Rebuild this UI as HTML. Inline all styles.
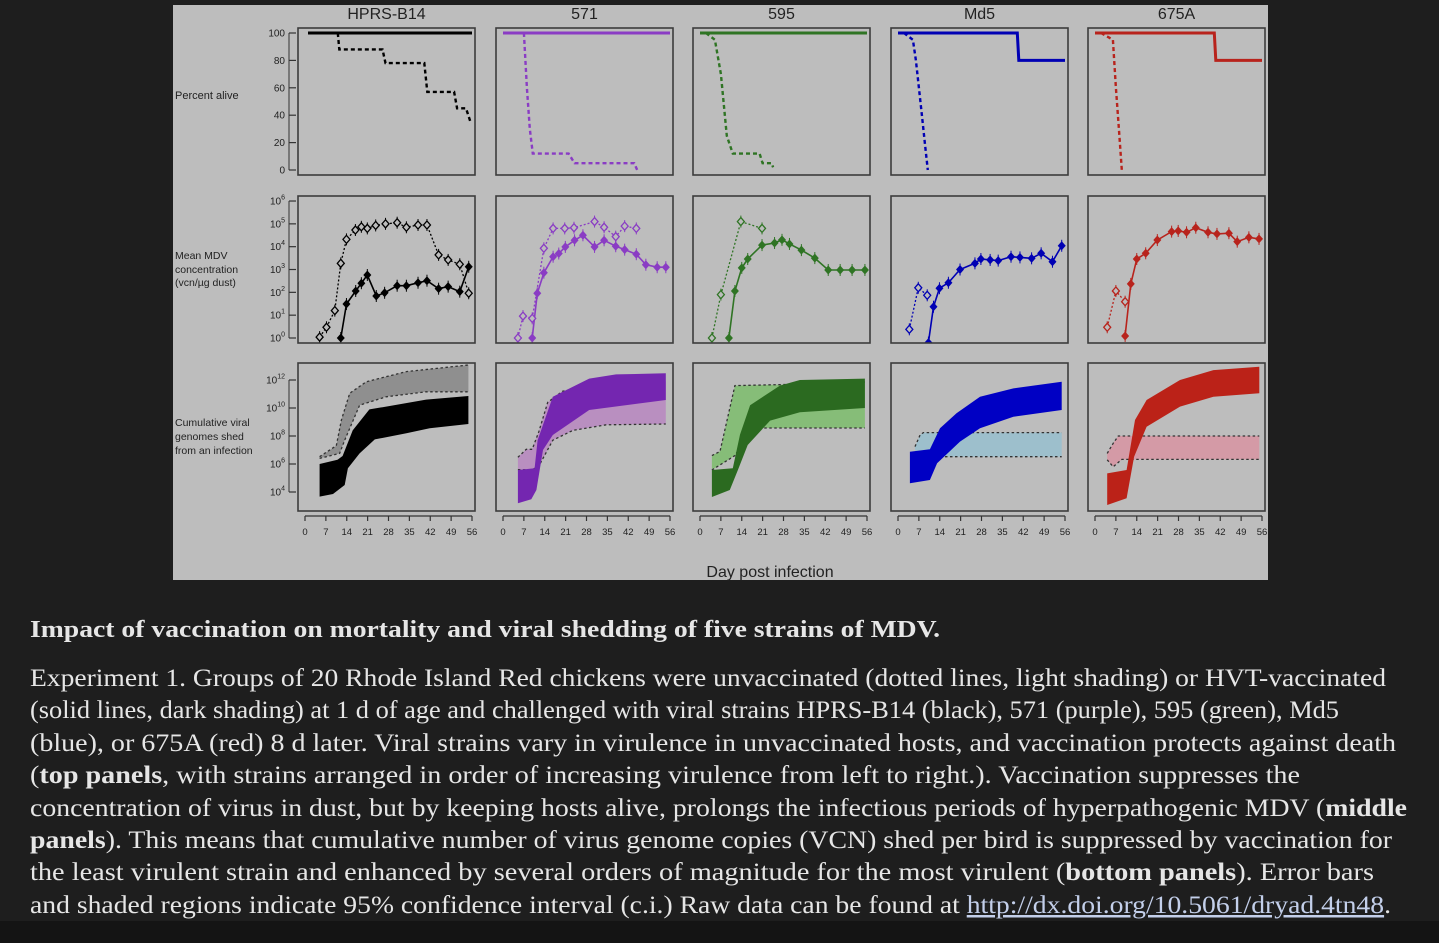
<!DOCTYPE html>
<html><head><meta charset="utf-8">
<style>
html,body{margin:0;padding:0;background:#1e1e1e;}
svg{display:block;}
.cap{font-family:"Liberation Serif",serif;fill:#e6e6e6;}
.ax{font-family:"Liberation Sans",sans-serif;fill:#222;}
</style></head>
<body>
<svg id="fig" width="1439" height="943" viewBox="0 0 1439 943" xmlns="http://www.w3.org/2000/svg">
<rect x="0" y="0" width="1439" height="943" fill="#1e1e1e"/>
<rect x="0" y="921" width="1439" height="22" fill="#141414"/>
<rect x="173" y="5" width="1095" height="575" fill="#bdbdbd"/>
<g id="plots"></g>
<text class="ax" x="175" y="99" font-size="11">Percent alive</text>
<text class="ax" font-size="10.5"><tspan x="175" y="259">Mean MDV</tspan><tspan x="175" y="273">concentration</tspan><tspan x="175" y="286">(vcn/µg dust)</tspan></text>
<text class="ax" font-size="10.5"><tspan x="175" y="426">Cumulative viral</tspan><tspan x="175" y="440">genomes shed</tspan><tspan x="175" y="454">from an infection</tspan></text>
<text class="ax" x="770" y="577" font-size="16" text-anchor="middle">Day post infection</text>

<text class="cap" x="30" y="637" font-size="24" font-weight="bold" textLength="910" lengthAdjust="spacingAndGlyphs">Impact of vaccination on mortality and viral shedding of five strains of MDV.</text>
<g font-size="25">
<text class="cap" x="30" y="686" textLength="1356" lengthAdjust="spacingAndGlyphs">Experiment 1. Groups of 20 Rhode Island Red chickens were unvaccinated (dotted lines, light shading) or HVT-vaccinated</text>
<text class="cap" x="30" y="718" textLength="1309" lengthAdjust="spacingAndGlyphs">(solid lines, dark shading) at 1 d of age and challenged with viral strains HPRS-B14 (black), 571 (purple), 595 (green), Md5</text>
<text class="cap" x="30" y="751" textLength="1366" lengthAdjust="spacingAndGlyphs">(blue), or 675A (red) 8 d later. Viral strains vary in virulence in unvaccinated hosts, and vaccination protects against death</text>
<text class="cap" x="30" y="783" textLength="1270" lengthAdjust="spacingAndGlyphs">(<tspan font-weight="bold">top panels</tspan>, with strains arranged in order of increasing virulence from left to right.). Vaccination suppresses the</text>
<text class="cap" x="30" y="816" textLength="1377" lengthAdjust="spacingAndGlyphs">concentration of virus in dust, but by keeping hosts alive, prolongs the infectious periods of hyperpathogenic MDV (<tspan font-weight="bold">middle</tspan></text>
<text class="cap" x="30" y="848" textLength="1362" lengthAdjust="spacingAndGlyphs"><tspan font-weight="bold">panels</tspan>). This means that cumulative number of virus genome copies (VCN) shed per bird is suppressed by vaccination for</text>
<text class="cap" x="30" y="880" textLength="1344" lengthAdjust="spacingAndGlyphs">the least virulent strain and enhanced by several orders of magnitude for the most virulent (<tspan font-weight="bold">bottom panels</tspan>). Error bars</text>
<text class="cap" x="30" y="913" textLength="1361" lengthAdjust="spacingAndGlyphs">and shaded regions indicate 95% confidence interval (c.i.) Raw data can be found at <tspan fill="#c3cfea" text-decoration="underline">http://dx.doi.org/10.5061/dryad.4tn48</tspan>.</text>
</g>
</svg>
<script>
const strains=["HPRS-B14","571","595","Md5","675A"];
// Survival (percent alive)
const survVaccDays=[[1,56],[0,56],[0,56],[0,40,40.5,56],[0,40,40.5,56]];
const survVaccVals=[[100,100],[100,100],[100,100],[100,100,80,80],[100,100,80,80]];
const survUnvDays=[[11,11.5,26,27,40,41,50,51,54,55.5],[7,8,9,10,22,24,44,45],[2,5,7,9,11,20,21,24,24.5],[2,5,6,7,8,9,10],[2,6,7,8,9]];
const survUnvVals=[[100,88,88,78,78,57,57,45,45,35],[100,60,30,12,12,5,5,0],[100,95,70,25,12,12,5,5,2],[100,95,80,60,40,20,0],[100,95,60,30,0]];
// Mean MDV concentration (log10)
const concUnvDays=[[4.9,7.2,10,12,13.9,16.9,18.9,20.9,23.7,27,30.9,34,37.9,40.9,44.8,48,51.9,54.9],[5,6.7,9.8,13.7,16.8,20.7,23.8,30.7,33.9,37.8,40.8,44.7],[4,7,13.7,20.8],[3.8,6.8,9.8],[4.1,7,10.1]];
const concUnvVals=[[0.04,0.47,1.2,3.27,4.32,4.73,4.87,4.8,4.93,5.0,5.05,4.85,4.95,4.95,3.64,3.42,3.23,1.96],[0,0.96,0.86,3.93,4.8,4.8,4.83,5.1,4.85,4.44,4.9,4.8],[0,1.9,5.1,4.8],[0.38,2.2,1.87],[0.47,2.06,1.59]];
const concVacDays=[[12,13.9,17,18.9,20.9,23.9,26.7,30.9,34,37.9,40.9,44.8,48,51.9,54.9],[9.8,11.5,13.7,16.8,18.7,20.9,24,26.8,30.7,33.9,37.8,40.8,44.7,47.9,51.7,54.6],[9.7,11.7,14,16,20.8,25,27.5,30,34,38.5,43,47,51,55.3],[10.2,11.9,13.9,16.9,20.8,25.8,27.8,30.9,33.6,37.9,40.9,44.8,48,51.8,54.9],[10.1,12,14,17,20.9,25.7,27.9,30.7,33.8,37.9,40.9,44.9,47.7,51.6,55]];
const concVacVals=[[0,1.49,2.06,2.4,2.76,1.84,1.98,2.29,2.29,2.42,2.51,2.16,2.25,2.03,3.12],[0,1.96,2.86,3.56,3.7,3.99,4.28,4.5,3.99,4.28,4.02,3.87,3.67,3.21,3.1,3.1],[0,2.06,3.07,3.46,4.07,4.16,4.3,4.12,3.85,3.5,2.98,2.98,2.98,2.98],[-0.2,1.37,2.18,2.42,3.0,3.27,3.46,3.42,3.39,3.56,3.53,3.49,3.71,3.34,4.04],[0.09,2.37,3.46,3.71,4.29,4.66,4.69,4.63,4.83,4.63,4.56,4.59,4.22,4.41,4.34]];
// Cumulative genomes shed (log10) 95% bands
const cumVacUpDays=[[4.9,10.9,12.6,16,21.6,27.2,40.6,54.8],[5,10.6,11.6,16.7,28.9,37.9,54.6],[4,11,13.4,16.8,26.8,33.5,55.3],[4,10.7,14.1,19.6,27.5,38.7,54.9],[4.1,10.6,13.4,17.3,28.5,39.7,55.1]];
const cumVacUp=[[6.0,6.3,6.57,8.4,9.9,10.1,10.6,10.86],[5.57,5.7,7.7,10.8,12.1,12.4,12.48],[5.57,5.7,8.1,10.2,11.6,12.0,12.1],[6.88,7.05,8.55,9.62,10.8,11.4,11.88],[5.33,5.57,9.14,10.57,12.0,12.71,12.95]];
const cumVacLoDays=[[4.9,9.4,13.3,14.4,18.3,23.4,34,41.8,54.8],[5,9.5,11.2,13.4,16.7,28.9,54.6],[4,10,12.7,16,23.5,33.5,55.3],[4,10.7,13.1,20.8,27.5,38.7,54.9],[4.1,10.6,13.1,17.3,28.5,39.7,55.1]];
const cumVacLo=[[3.67,3.86,4.5,5.7,6.76,7.76,8.19,8.55,8.86],[3.2,3.48,4.14,7.0,8.07,9.86,10.57],[3.64,4.14,5.57,7.36,9.1,9.7,10.0],[4.62,4.86,6.05,7.6,8.55,9.38,9.86],[3.07,3.55,6.52,8.66,10.1,10.8,11.05]];
const cumUnvUpDays=[[4.9,10.5,12.2,15,20.6,34,54.8],[5,7.8,9.8,12,15,20,30,40,54.6],[4,6.7,11.7,33.5,55.3],[5.7,7.4,8.5,54.9],[4.1,6.1,7.8,55.1]];
const cumUnvUp=[[6.52,7.31,9.14,11.05,11.88,12.6,13.07],[6.48,7.05,7.05,8.3,10.4,11.2,11.6,11.8,11.9],[6.6,6.9,11.6,11.7,11.86],[7.24,8.07,8.24,8.24],[6.76,7.48,8.0,8.0]];
const cumUnvLoDays=[[4.9,11.6,13.3,18.3,27.2,40.6,54.8],[5,9.8,12.2,16.7,23.4,34.6,54.6],[4,11.7,16,20,55.3],[5.7,54.9],[4.1,6.1,9,55.1]];
const cumUnvLo=[[6.4,6.76,7.7,10.2,10.8,11.16,11.16],[5.6,5.57,5.93,7.7,8.4,8.8,8.86],[5.57,6.6,8.1,8.57,8.57],[6.52,6.52],[6.3,5.8,6.33,6.33]];
const xTicks=[0,7,14,21,28,35,42,49,56];
const survTicks=[0,20,40,60,80,100];
const concTicks=[0,1,2,3,4,5,6];
const cumTicks=[4,6,8,10,12];

const lineCol=["#000000","#8a3cc4","#2f7424","#0000b4","#b8231c"];
const vacFill=["#000000","#7426b0","#2b6a20","#0000c4","#bb2218"];
const unvFill=["#8f8f8f","#b98fc0","#86bd78","#9dbfcc","#d49aa6"];
const NS="http://www.w3.org/2000/svg";
const root=document.getElementById('plots');
const lefts=[298,496,693,891,1088], PW=177;
const rows=[{t:28,b:175},{t:196,b:343},{t:363,b:511}];
function xs(p,d){return lefts[p]+7+d*167/56;}
const ySurv=v=>170-v*1.37, yConc=v=>338-v*22.83, yCum=v=>492-(v-4)*14;
function el(tag,attrs,parent){const e=document.createElementNS(NS,tag);for(const k in attrs)e.setAttribute(k,attrs[k]);(parent||root).appendChild(e);return e;}
function pts(p,D,V,fy){return D.map((d,i)=>xs(p,d).toFixed(1)+","+fy(V[i]).toFixed(1)).join(" ");}
function supText(x,y,base,exp,parent,anchor){
  const t=el('text',{x:x,y:y,'font-size':10,'text-anchor':anchor||'end',class:'ax'},parent);
  
  
  t.appendChild(document.createTextNode(base));
  const s=el('tspan',{'font-size':7,dy:-5},t);s.textContent=exp;
}
const defs=el('defs',{});
strains.forEach((s,p)=>{
  rows.forEach((r,ri)=>{
    const cp=el('clipPath',{id:'c'+p+'_'+ri},defs);
    el('rect',{x:lefts[p],y:r.t,width:PW,height:r.b-r.t},cp);
  });
  const g=el('g',{});
  
  
  const tt=el('text',{x:lefts[p]+PW/2,y:19,'font-size':16,'text-anchor':'middle',class:'ax'},g);
  
  
  tt.textContent=s;
  // row1 survival
  const g1=el('g',{'clip-path':'url(#c'+p+'_0)'},g);
  
  
  el('polyline',{points:pts(p,survUnvDays[p],survUnvVals[p],ySurv),fill:'none',stroke:lineCol[p],'stroke-width':2.4,'stroke-dasharray':'4,3'},g1);
  el('polyline',{points:pts(p,survVaccDays[p],survVaccVals[p],ySurv),fill:'none',stroke:lineCol[p],'stroke-width':3},g1);
  // row2 concentration
  const g2=el('g',{'clip-path':'url(#c'+p+'_1)'},g);
  
  
  el('polyline',{points:pts(p,concUnvDays[p],concUnvVals[p],yConc),fill:'none',stroke:lineCol[p],'stroke-width':1.3,'stroke-dasharray':'2,2'},g2);
  el('polyline',{points:pts(p,concVacDays[p],concVacVals[p],yConc),fill:'none',stroke:lineCol[p],'stroke-width':1.6},g2);
  concUnvDays[p].forEach((d,i)=>{const x=xs(p,d),y=yConc(concUnvVals[p][i]);
    el('line',{x1:x,x2:x,y1:y-6,y2:y+6,stroke:lineCol[p],'stroke-width':1},g2);
    const m=el('polygon',{points:`${x},${y-4} ${x+3.5},${y} ${x},${y+4} ${x-3.5},${y}`,fill:'#bdbdbd',stroke:lineCol[p],'stroke-width':1.3},g2);
    
    });
  concVacDays[p].forEach((d,i)=>{const x=xs(p,d),y=yConc(concVacVals[p][i]);
    el('line',{x1:x,x2:x,y1:y-6,y2:y+6,stroke:lineCol[p],'stroke-width':1},g2);
    const m=el('polygon',{points:`${x},${y-4.5} ${x+4},${y} ${x},${y+4.5} ${x-4},${y}`,fill:lineCol[p]},g2);
    
    });
  // row3 cumulative bands
  const g3=el('g',{'clip-path':'url(#c'+p+'_2)'},g);
  
  
  const band=(UD,U,LD,L,fill,op)=>{const up=pts(p,UD,U,yCum);const lo=pts(p,LD.slice().reverse(),L.slice().reverse(),yCum);return el('polygon',{points:up+" "+lo,fill:fill,opacity:op},g3);};
  const ub=band(cumUnvUpDays[p],cumUnvUp[p],cumUnvLoDays[p],cumUnvLo[p],unvFill[p],1);
  
  
  el('polyline',{points:pts(p,cumUnvUpDays[p],cumUnvUp[p],yCum),fill:'none',stroke:'#333','stroke-width':1.3,'stroke-dasharray':'2.5,2.5'},g3);
  el('polyline',{points:pts(p,cumUnvLoDays[p],cumUnvLo[p],yCum),fill:'none',stroke:'#333','stroke-width':1.3,'stroke-dasharray':'2.5,2.5'},g3);
  const vb=band(cumVacUpDays[p],cumVacUp[p],cumVacLoDays[p],cumVacLo[p],vacFill[p],1);
  
  
  // boxes
  rows.forEach(r=>{const b=el('rect',{x:lefts[p],y:r.t,width:PW,height:r.b-r.t,fill:'none',stroke:'#3c3c3c','stroke-width':1.6},g);
    
    });
  // x axis
  const xa=el('g',{},g);
  
  
  el('line',{x1:xs(p,0),x2:xs(p,56),y1:516,y2:516,stroke:'#333','stroke-width':1.2},xa);
  xTicks.forEach(d=>{const x=xs(p,d);el('line',{x1:x,x2:x,y1:516,y2:521,stroke:'#333','stroke-width':1.2},xa);
    const t=el('text',{x:x,y:535,'font-size':9.5,'text-anchor':'middle',class:'ax'},xa);
    
    
    t.textContent=d;});
});
// y axes (first column)
const ya=el('g',{});


survTicks.forEach(v=>{const y=ySurv(v);el('line',{x1:289,x2:296,y1:y,y2:y,stroke:'#333','stroke-width':1.2},ya);
  const t=el('text',{x:285,y:y+3.5,'font-size':10,'text-anchor':'end',class:'ax'},ya);
  
  
  t.textContent=v;});
el('line',{x1:289,x2:289,y1:ySurv(0),y2:ySurv(100),stroke:'#333','stroke-width':1},ya);
concTicks.forEach(v=>{const y=yConc(v);el('line',{x1:289,x2:296,y1:y,y2:y,stroke:'#333','stroke-width':1.2},ya);supText(285,y+3.5,'10',v,ya);});
el('line',{x1:289,x2:289,y1:yConc(0),y2:yConc(6),stroke:'#333','stroke-width':1},ya);
cumTicks.forEach(v=>{const y=yCum(v);el('line',{x1:289,x2:296,y1:y,y2:y,stroke:'#333','stroke-width':1.2},ya);supText(285,y+3.5,'10',v,ya);});
el('line',{x1:289,x2:289,y1:yCum(4),y2:yCum(12),stroke:'#333','stroke-width':1},ya);
</script>
</body></html>
